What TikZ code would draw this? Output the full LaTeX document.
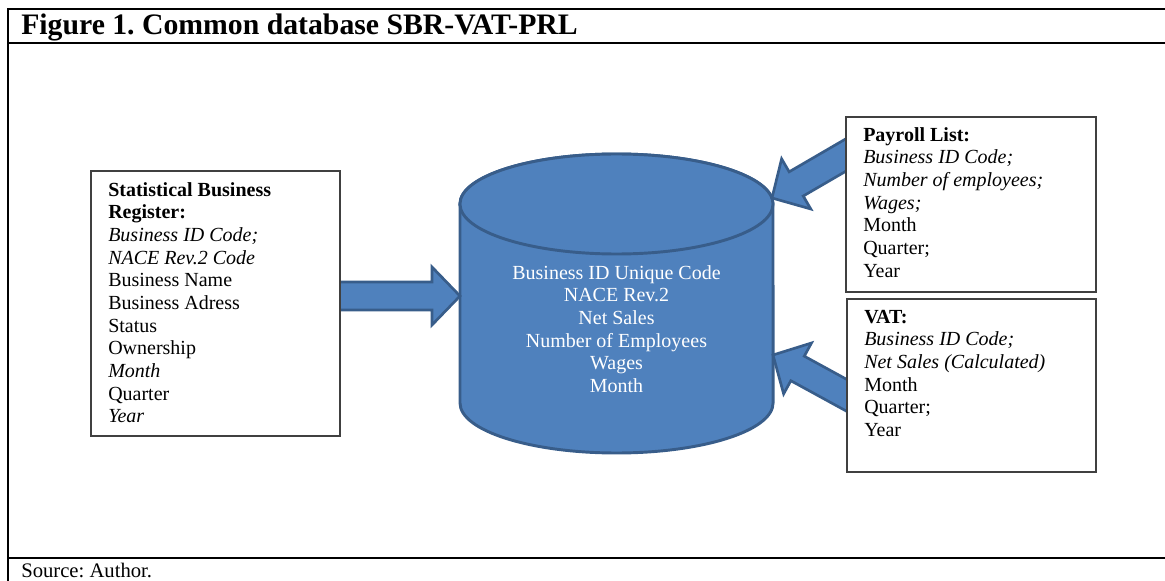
\documentclass[tikz,border=0pt]{standalone}
\usepackage{fontspec}
\setmainfont{Liberation Serif}
\usetikzlibrary{calc}
\frenchspacing

\definecolor{dbfill}{HTML}{4F81BD}
\definecolor{dbline}{HTML}{385D8A}

\tikzset{
  rule/.style={line width=1.5pt, line cap=rect},
  srcbox/.style={draw=black!75, line width=0.8pt, fill=white, inner sep=0pt},
  boxtext/.style={anchor=north west, inner sep=0pt, align=left,
    font=\fontsize{15}{17}\selectfont},
  dbtext/.style={anchor=north, inner sep=0pt, align=center, text=white,
    font=\fontsize{15}{17}\selectfont},
  dbshape/.style={fill=dbfill, draw=dbline, line width=2.2pt},
  blockarrow/.style={fill=dbfill, draw=dbline, line width=2pt, line join=miter},
}

% block arrow from #1 (tail) to #2 (tip): shaft 28px, head 58px wide, 28px long
\newcommand\blockarrow[2]{%
  \coordinate (#1-hb) at ($(#2)!21pt!(#1)$);
  \draw[blockarrow]
    ($(#1)!10.5pt!90:(#2)$) -- ($(#1-hb)!10.5pt!90:(#2)$)
    -- ($(#1-hb)!21.75pt!90:(#2)$) -- (#2)
    -- ($(#1-hb)!21.75pt!-90:(#2)$) -- ($(#1-hb)!10.5pt!-90:(#2)$)
    -- ($(#1)!10.5pt!-90:(#2)$) -- cycle;}

\begin{document}
\begin{tikzpicture}[x=0.75pt, y=-0.75pt]
  \useasboundingbox (0,0) rectangle (1165,581);

  % table frame
  \coordinate (tl) at (8,9);
  \coordinate (tr) at (1165,9);
  \coordinate (hl) at (8,43);
  \coordinate (hr) at (1165,43);
  \coordinate (bl) at (8,558);
  \coordinate (br) at (1165,558);
  \coordinate (vb) at (8,581);
  \draw[rule] (tl) -- (tr);
  \draw[rule] (hl) -- (hr);
  \draw[rule] (bl) -- (br);
  \draw[rule] (tl) -- (vb);

  \node[anchor=base west, inner sep=0pt, font=\fontsize{22.3}{25}\selectfont\bfseries]
    (title) at (21,34.5) {Figure 1. Common database SBR-VAT-PRL};
  \node[anchor=base west, inner sep=0pt, font=\fontsize{15.5}{18}\selectfont]
    (source) at (21,577.5) {Source: Author.};

  % database cylinder
  \draw[dbshape] (460,204) -- (460,403)
    arc[start angle=180, end angle=360, x radius=117.4pt, y radius=37.5pt]
    -- (773,204)
    arc[start angle=0, end angle=180, x radius=117.4pt, y radius=37.5pt] -- cycle;
  \draw[dbshape] (616.5,204) ellipse[x radius=117.4pt, y radius=37.5pt];
  \node[dbtext] (db) at (616.5,263.1)
    {\strut Business ID Unique Code\\NACE Rev.2\\Net Sales\\Number of Employees\\Wages\\Month};

  % arrow end points
  \coordinate (sbrtail) at (330,296);
  \coordinate (dbwest) at (460,296);
  \coordinate (prltail) at (870,141);
  \coordinate (dbnortheast) at (772,198);
  \coordinate (vattail) at (870.6,408.4);
  \coordinate (dbeast) at (773,355);

  \blockarrow{sbrtail}{dbwest}
  \blockarrow{prltail}{dbnortheast}
  \blockarrow{vattail}{dbeast}

  % source boxes
  \node[srcbox, minimum width=249*0.75pt, minimum height=265*0.75pt]
    (sbr) at (215.5,303.5) {};
  \node[boxtext] (sbrtext) at (108,180.1)
    {\strut\textbf{Statistical Business}\\\textbf{Register:}\\\textit{Business ID Code;}\\
     \textit{NACE Rev.2 Code}\\Business Name\\Business Adress\\Status\\Ownership\\
     \textit{Month}\\Quarter\\\textit{Year}};

  \node[srcbox, minimum width=250*0.75pt, minimum height=175*0.75pt]
    (prl) at (971,204.5) {};
  \node[boxtext] (prltext) at (863,125.1)
    {\strut\textbf{Payroll List:}\\\textit{Business ID Code;}\\\textit{Number of employees;}\\
     \textit{Wages;}\\Month\\Quarter;\\Year};

  \node[srcbox, minimum width=249*0.75pt, minimum height=173*0.75pt]
    (vat) at (971.5,385.5) {};
  \node[boxtext] (vattext) at (864,307.1)
    {\strut\textbf{VAT:}\\\textit{Business ID Code;}\\\textit{Net Sales (Calculated)}\\
     Month\\Quarter;\\Year};
\end{tikzpicture}
\end{document}
